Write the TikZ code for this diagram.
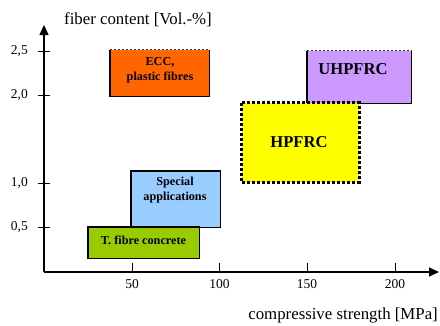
\documentclass[tikz,border=0pt]{standalone}
\usepackage{fontspec}
\setmainfont{Liberation Serif}
\usetikzlibrary{arrows.meta}
\definecolor{eccorange}{HTML}{FF6600}
\definecolor{uhpviolet}{HTML}{CC99FF}
\definecolor{hpyellow}{HTML}{FFFF00}
\definecolor{specblue}{HTML}{99CCFF}
\definecolor{fibregreen}{HTML}{99CC00}
\tikzset{
  axisline/.style={line width=1.3pt,-{Triangle[length=10pt,width=9pt]}},
  tickmark/.style={line width=1pt},
  ticklabel/.style={inner sep=0pt,font=\fontsize{13.5}{14}\selectfont},
  axislabel/.style={inner sep=0pt,font=\fontsize{16.8}{18}\selectfont},
  field/.style={draw=none,inner sep=0pt,align=center,
    font=\fontsize{12.2}{15}\selectfont\bfseries},
  bigfield/.style={field,font=\fontsize{16.6}{18}\selectfont\bfseries},
  frame/.style={line width=1.4pt,line join=miter},
  topdash/.style={line width=0.8pt,dash pattern=on 2.5pt off 1.5pt,black!80},
}
\begin{document}
\begin{tikzpicture}[x=1pt,y=-1pt]
\useasboundingbox (0,0) rectangle (440,325);

% axes
\coordinate (origin) at (44,272);
\coordinate (ytip) at (44,25);
\coordinate (xtip) at (439,272);
\draw[axisline] (origin) -- (ytip);
\draw[axisline] (origin) -- (xtip);

% ticks on the strength axis
\foreach \v/\px in {50/132,100/219.5,150/307,200/395}{
  \draw[tickmark] (\px,263) -- (\px,272);
  \node[ticklabel] at (\px,284) {\v};
}
% ticks on the fibre axis
\foreach \v/\py in {0{,}5/227,1{,}0/183,2{,}0/95,2{,}5/51}{
  \draw[tickmark] (38,\py) -- (50,\py);
  \node[ticklabel,anchor=east] at (28,\py) {\v};
}

\node[axislabel,anchor=west] (ylab) at (64,20) {fiber content [Vol.-\%]};
\node[axislabel,anchor=east] (xlab) at (438,315) {compressive strength [MPa]};

% ECC field: solid sides, dashed top
\node[field,fill=eccorange,minimum width=99pt,minimum height=46pt] (ecc) at (159.5,73) {};
\draw[frame] (ecc.north west) -- (ecc.south west) -- (ecc.south east) -- (ecc.north east);
\draw[topdash] (ecc.north west) -- (ecc.north east);
\node[field] (ecctext) at (160,70) {ECC,\\plastic fibres};

% UHPFRC field
\node[field,fill=uhpviolet,minimum width=104pt,minimum height=52pt] (uhp) at (359,77) {};
\draw[frame] (uhp.north west) -- (uhp.south west) -- (uhp.south east) -- (uhp.north east);
\draw[topdash] (uhp.north west) -- (uhp.north east);
\node[bigfield] (uhptext) at (353,69) {UHPFRC};

% HPFRC field with heavy dotted frame
\node[field,fill=hpyellow,minimum width=117pt,minimum height=79pt] (hp) at (300.5,142.5) {};
\draw[line width=3pt,dash pattern=on 3pt off 2pt] (hp.north west) rectangle (hp.south east);
\node[bigfield] (hptext) at (299,142) {HPFRC};

% special applications
\node[field,fill=specblue,minimum width=89pt,minimum height=56pt] (spec) at (175.5,199) {};
\draw[frame] (spec.north west) rectangle (spec.south east);
\node[field] (spectext) at (175,190.5) {Special\\applications};

% traditional fibre concrete
\node[field,fill=fibregreen,minimum width=111pt,minimum height=31pt] (tfc) at (143.5,242.5) {};
\draw[frame] (tfc.north west) rectangle (tfc.south east);
\node[field] (tfctext) at (143.5,240.5) {T. fibre concrete};
\end{tikzpicture}
\end{document}
